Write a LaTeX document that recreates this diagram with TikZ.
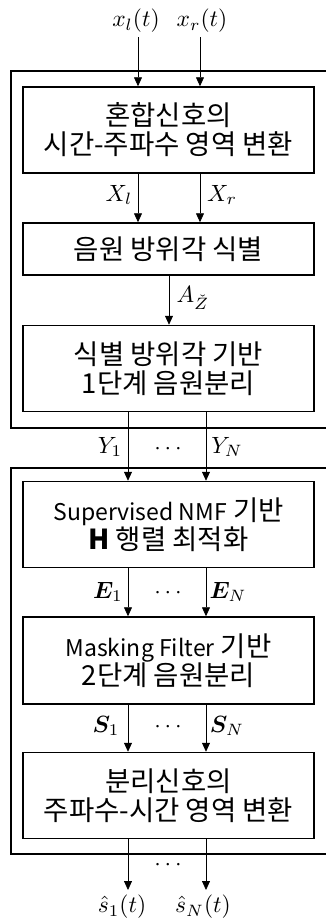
\documentclass[tikz,border=0pt]{standalone}
\usepackage{fontspec}
\usepackage{bm}
\newfontfamily\kr{Noto Sans CJK KR}
\usetikzlibrary{arrows.meta}
\newcommand{\latn}[1]{{\fontsize{23}{29}\selectfont #1}}
\begin{document}
\begin{tikzpicture}[x=1pt,y=-1pt,
  blk/.style={draw, line width=1.5pt, minimum width=291pt, minimum height=86pt,
    inner sep=0pt, align=center, font=\kr\fontsize{27.5}{29}\selectfont},
  grp/.style={draw, line width=2.2pt, anchor=north west, minimum width=330pt, inner sep=0pt},
  arr/.style={-{Triangle[width=8pt,length=9pt]}, line width=0.8pt},
  lbl/.style={inner sep=0pt, font=\fontsize{10}{12}\selectfont, scale=2.35, transform shape}]
\useasboundingbox (0,0) rectangle (326,922);
\clip (0,0) rectangle (326,922);
% groups
\node[grp, minimum height=357pt] (g1) at (10,70) {};
\node[grp, minimum height=386pt] (g2) at (10,467) {};
% blocks
\node[blk] (b1) at (168.5,130) {혼합신호의\\시간-주파수 영역 변환};
\node[blk, minimum height=52pt] (b2) at (168.5,249) {음원 방위각 식별};
\node[blk] (b3) at (168.5,368.5) {식별 방위각 기반\\1단계 음원분리};
\node[blk] (b4) at (168.5,524.5) {\latn{Supervised NMF} 기반\\\textbf{H} 행렬 최적화};
\node[blk, minimum height=87pt] (b5) at (168.5,660.5) {\latn{Masking Filter} 기반\\2단계 음원분리};
\node[blk] (b6) at (168.5,795.5) {분리신호의\\주파수-시간 영역 변환};
% columns
\coordinate (cl) at (138,0);
\coordinate (cr) at (200,0);
\coordinate (cm) at (169,0);
\coordinate (dl) at (128,0);
\coordinate (dr) at (206,0);
% inputs
\node[lbl] (xl) at (136,21) {$x_l(t)$};
\node[lbl] (xr) at (202,21) {$x_r(t)$};
\coordinate (il) at (138,37);
\coordinate (ir) at (200,37);
\draw[arr] (il) -- (b1.north -| cl);
\draw[arr] (ir) -- (b1.north -| cr);
% b1 -> b2
\draw[arr] (b1.south -| cl) -- (b2.north -| cl);
\draw[arr] (b1.south -| cr) -- (b2.north -| cr);
\node[lbl] (Xl) at (119,195) {$X_l$};
\node[lbl] (Xr) at (222,195) {$X_r$};
% b2 -> b3
\draw[arr] (b2.south -| cm) -- (b3.north -| cm);
\node[lbl] (Az) at (193,298) {$A_{\check{Z}}$};
% b3 -> b4
\draw[arr] (b3.south -| dl) -- (b4.north -| dl);
\draw[arr] (b3.south -| dr) -- (b4.north -| dr);
\node[lbl] (Y1) at (110,447) {$Y_1$};
\node[lbl] (Yd) at (168,449) {$\cdots$};
\node[lbl] (YN) at (227,447) {$Y_N$};
% b4 -> b5
\draw[arr] (b4.south -| dl) -- (b5.north -| dl);
\draw[arr] (b4.south -| dr) -- (b5.north -| dr);
\node[lbl] (E1) at (108,592) {$\bm{E}_1$};
\node[lbl] (Ed) at (168,593) {$\cdots$};
\node[lbl] (EN) at (228,592) {$\bm{E}_N$};
% b5 -> b6
\draw[arr] (b5.south -| dl) -- (b6.north -| dl);
\draw[arr] (b5.south -| dr) -- (b6.north -| dr);
\node[lbl] (S1) at (106,726) {$\bm{S}_1$};
\node[lbl] (Sd) at (168,727) {$\cdots$};
\node[lbl] (SN) at (227,726) {$\bm{S}_N$};
% outputs
\coordinate (ol) at (128,890);
\coordinate (or) at (206,890);
\draw[arr] (b6.south -| dl) -- (ol);
\draw[arr] (b6.south -| dr) -- (or);
\node[lbl] (Od) at (168,865) {$\cdots$};
\node[lbl] (s1) at (122,907) {$\hat{s}_1(t)$};
\node[lbl] (sN) at (203,907) {$\hat{s}_N(t)$};
\end{tikzpicture}
\end{document}
